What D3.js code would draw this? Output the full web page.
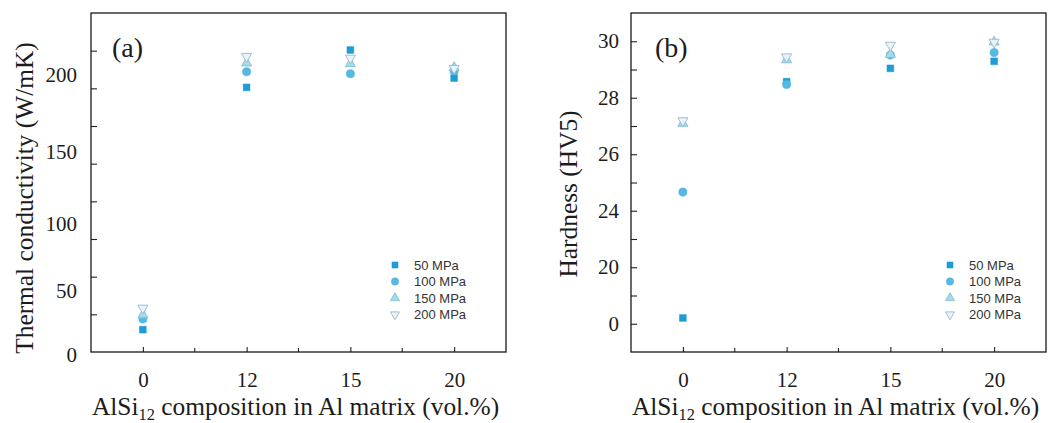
<!DOCTYPE html>
<html><head><meta charset="utf-8">
<script src="https://cdn.jsdelivr.net/npm/d3@7"></script>
<style>body{margin:0;background:#fff}svg{display:block}</style>
</head><body>
<svg id="chart" width="1057" height="423"></svg>
<script>
// ---------- data ----------
const categories = ["0", "12", "15", "20"];
const seriesNames = ["50 MPa", "100 MPa", "150 MPa", "200 MPa"];

// (a) Thermal conductivity (W/mK)
const tc50  = [19.8, 191.7, 215.8, 197.7];
const tc100 = [28.1, 201.8, 200.5, 202.3];
const tc150 = [31.3, 207.4, 207.0, 204.5];
const tc200 = [36.7, 211.7, 210.6, 204.0];
const tcTickLabels = [0, 50, 100, 150, 200];

// (b) Hardness (HV5)
const hv50  = [2.05, 28.57, 29.04, 29.29];
const hv100 = [24.66, 28.47, 29.51, 29.60];
const hv150 = [27.09, 29.34, 29.53, 29.97];
const hv200 = [27.19, 29.45, 29.86, 29.97];
const hvTickLabels = [0, 20, 24, 26, 28, 30];
const hvMinorTicks = [10, 22, 25, 27, 29];

// ---------- styles ----------
const styles = [
  {type: d3.symbolSquare,   size: 46, rot: 0,   fill: "#1f9bd7", stroke: "#1f9bd7", sw: 0.5},
  {type: d3.symbolCircle,   size: 52, rot: 0,   fill: "#56b9e4", stroke: "#4aaedc", sw: 0.6},
  {type: d3.symbolTriangle, size: 44, rot: 0,   fill: "#a7d9e8", stroke: "#7fc2d8", sw: 0.9},
  {type: d3.symbolTriangle, size: 44, rot: 180, fill: "#eaf3f8", stroke: "#97b9cf", sw: 0.9}
];
const serifFont = "'Liberation Serif','Times New Roman',serif";
const sansFont = "'Liberation Sans',Arial,sans-serif";
const textColor = "#1c1c1c";

const svg = d3.select("#chart");
const plotTop = 13, plotBottom = 352;

function panel(opt) {
  const g = svg.append("g");
  const {left, right} = opt;
  const x = d3.scaleBand().domain(categories).range([left, right]).paddingInner(0).paddingOuter(0);
  const xc = c => x(c) + x.bandwidth() / 2;
  const y = opt.y;

  // x axis tick marks (inside) + labels
  const xAxis = d3.axisBottom(d3.scalePoint().domain(categories).range([xc(categories[0]), xc(categories[categories.length-1])]))
    .tickSize(-5).tickPadding(0);
  const xg = g.append("g").attr("transform", `translate(0,${plotBottom})`).call(xAxis);
  xg.select(".domain").remove();
  xg.selectAll(".tick line").attr("stroke", "#222").attr("stroke-width", 1.1);
  xg.selectAll(".tick text").attr("y", 35).attr("dy", 0)
    .attr("font-family", serifFont).attr("font-size", 21).attr("fill", textColor);
  // minor x ticks at band boundaries
  g.append("g").selectAll("line").data(categories.slice(1)).join("line")
    .attr("x1", d => x(d)).attr("x2", d => x(d))
    .attr("y1", plotBottom).attr("y2", plotBottom - 4)
    .attr("stroke", "#222").attr("stroke-width", 1.1);

  // y axis
  opt.drawY(g, left);

  // frame
  g.append("rect").attr("x", left).attr("y", plotTop).attr("width", right - left).attr("height", plotBottom - plotTop)
    .attr("fill", "none").attr("stroke", "#1a1a1a").attr("stroke-width", 1.3);

  // points
  opt.series.forEach((vals, i) => {
    const s = styles[i];
    const sym = d3.symbol().type(s.type).size(s.size);
    g.append("g").selectAll("path").data(vals).join("path")
      .attr("d", sym)
      .attr("transform", (d, j) => `translate(${xc(categories[j])},${y(d)}) rotate(${s.rot})`)
      .attr("fill", s.fill).attr("stroke", s.stroke).attr("stroke-width", s.sw);
  });

  // panel label
  g.append("text").attr("x", opt.labelX).attr("y", 57).text(opt.label)
    .attr("font-family", serifFont).attr("font-size", 28).attr("fill", textColor);

  // axis titles
  const xt = g.append("text").attr("x", (left + right) / 2 - 3).attr("y", 415)
    .attr("text-anchor", "middle").attr("font-family", serifFont).attr("font-size", 25.4).attr("fill", textColor);
  xt.append("tspan").text("AlSi");
  xt.append("tspan").text("12").attr("font-size", 16.5).attr("dy", 5);
  xt.append("tspan").text(" composition in Al matrix (vol.%)").attr("dy", -5);

  g.append("text").attr("transform", `translate(${opt.yTitleX},${opt.yTitleY}) rotate(-90)`)
    .attr("text-anchor", "middle").attr("font-family", serifFont).attr("font-size", 25.4).attr("fill", textColor)
    .text(opt.yTitle);

  // legend
  const legX = opt.legX, legY0 = 265, legStep = 16.5;
  const lg = g.append("g");
  seriesNames.forEach((name, i) => {
    const s = styles[i];
    const cy = legY0 + i * legStep;
    lg.append("path").attr("d", d3.symbol().type(s.type).size(s.size * 0.8))
      .attr("transform", `translate(${legX},${cy}) rotate(${s.rot})`)
      .attr("fill", s.fill).attr("stroke", s.stroke).attr("stroke-width", s.sw);
    lg.append("text").attr("x", legX + 19).attr("y", cy + 4.7).text(name)
      .attr("font-family", sansFont).attr("font-size", 13).attr("fill", "#333");
  });
}

// ----- panel (a) -----
const yA = d3.scaleLinear().domain(tcTickLabels).range([355, 291, 224, 152, 74.5]);
const yTickA = d3.scaleLinear().domain([0, 9]).range([plotBottom, plotTop]);
panel({
  left: 91, right: 506, y: yA, label: "(a)", labelX: 112,
  yTitle: "Thermal conductivity (W/mK)", yTitleX: 33, yTitleY: 198, legX: 395,
  series: [tc50, tc100, tc150, tc200],
  drawY(g, left) {
    const marks = g.append("g").attr("transform", `translate(${left},0)`)
      .call(d3.axisLeft(yTickA).tickValues(d3.range(1, 9)).tickSize(-6).tickFormat(""));
    marks.select(".domain").remove();
    marks.selectAll(".tick line").attr("stroke", "#222").attr("stroke-width", 1.1);
    const labs = g.append("g").attr("transform", `translate(${left},0)`)
      .call(d3.axisLeft(yA).tickValues(tcTickLabels).tickSize(0).tickPadding(14));
    labs.select(".domain").remove();
    labs.selectAll(".tick text").attr("font-family", serifFont).attr("font-size", 21).attr("fill", textColor);
  }
});

// ----- panel (b) -----
const stepB = (plotBottom - plotTop) / 12;
const yB = d3.scaleLinear().domain([-10, 20, 24, 31])
  .range([plotBottom, plotBottom - 3 * stepB, plotBottom - 5 * stepB, plotTop]);
panel({
  left: 631, right: 1046, y: yB, label: "(b)", labelX: 655,
  yTitle: "Hardness (HV5)", yTitleX: 577, yTitleY: 194, legX: 950,
  series: [hv50, hv100, hv150, hv200],
  drawY(g, left) {
    const ax = g.append("g").attr("transform", `translate(${left},0)`)
      .call(d3.axisLeft(yB).tickValues(hvTickLabels.concat(hvMinorTicks)).tickSize(-6).tickPadding(12)
        .tickFormat(d => hvTickLabels.includes(d) ? d : ""));
    ax.select(".domain").remove();
    ax.selectAll(".tick line").attr("stroke", "#222").attr("stroke-width", 1.1);
    ax.selectAll(".tick text").attr("font-family", serifFont).attr("font-size", 21).attr("fill", textColor);
  }
});
</script>
</body></html>
